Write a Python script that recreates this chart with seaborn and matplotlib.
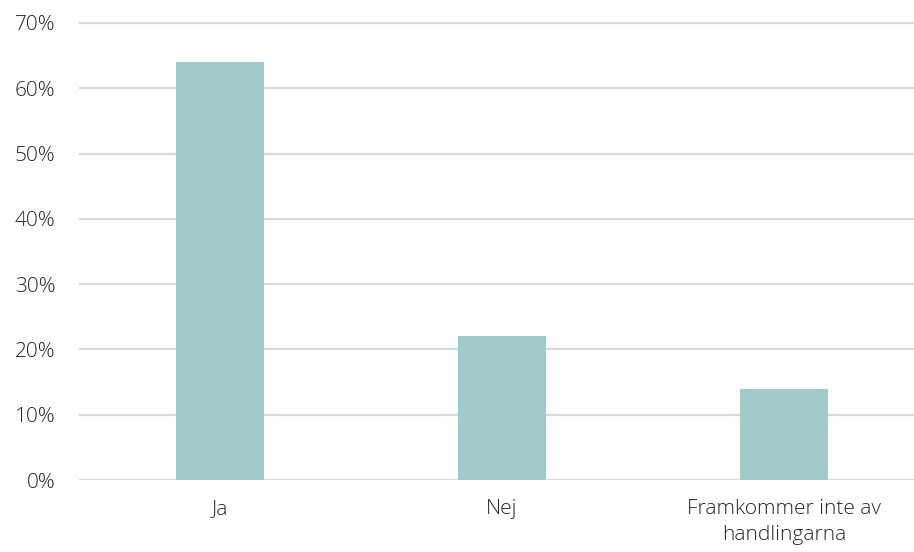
import pandas as pd
import matplotlib
matplotlib.use("Agg")
import matplotlib.pyplot as plt
import seaborn as sns
from matplotlib.ticker import FuncFormatter

categories = ["Ja", "Nej", "Framkommer inte av\nhandlingarna"]
values = [64, 22, 14]

df = pd.DataFrame({"svar": categories, "andel": values})

sns.set_theme(style="white")
plt.rcParams["font.family"] = ["Open Sans", "DejaVu Sans"]

fig = plt.figure(figsize=(9.14, 5.52), dpi=100)
ax = fig.add_axes([79 / 914, 72 / 552, 1 - 79 / 914, 460.3 / 552])

sns.barplot(data=df, x="svar", y="andel", color="#A0CBC9", width=0.31,
            saturation=1, linewidth=0, ax=ax, zorder=3)

ax.set_ylim(0, 70.5)
ax.set_xlim(-0.5, 2.461)
ax.set_yticks(range(0, 71, 10))
ax.yaxis.set_major_formatter(FuncFormatter(lambda v, p: f"{v:.0f}%"))
ax.grid(axis="y", color="#D9D9D9", linewidth=1.6, zorder=0)
ax.set_axisbelow(True)
for s in ax.spines.values():
    s.set_visible(False)
ax.tick_params(axis="both", length=0, labelsize=15, labelcolor="#262626")
ax.tick_params(axis="y", pad=17)
ax.tick_params(axis="x", pad=14)
for lbl in ax.get_xticklabels() + ax.get_yticklabels():
    lbl.set_fontweight("light")
for lbl in ax.get_xticklabels():
    lbl.set_linespacing(1.4)
ax.set_xlabel("")
ax.set_ylabel("")

fig.savefig("out.png", dpi=100)
